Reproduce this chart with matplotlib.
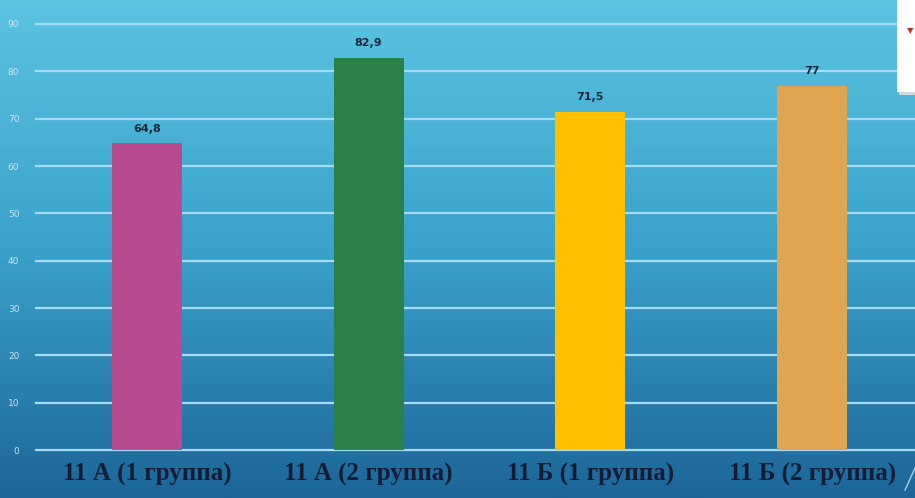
import numpy as np
import matplotlib
matplotlib.use("Agg")
import matplotlib.pyplot as plt
from matplotlib.colors import LinearSegmentedColormap
from matplotlib.patches import Rectangle

categories = ["11 А (1 группа)", "11 А (2 группа)", "11 Б (1 группа)", "11 Б (2 группа)"]
values = [64.8, 82.9, 71.5, 77]
value_labels = ["64,8", "82,9", "71,5", "77"]
bar_colors = ["#b84b8f", "#2b7f48", "#ffc000", "#e0a550"]
yticks = [0, 10, 20, 30, 40, 50, 60, 70, 80, 90]

W, H = 915, 498
fig = plt.figure(figsize=(W / 100, H / 100), dpi=100)

# background gradient
bg = fig.add_axes([0, 0, 1, 1], zorder=0)
cmap = LinearSegmentedColormap.from_list("bg", ["#5ac4e1", "#3aa2cb", "#1c6699"])
grad = np.linspace(0, 1, 256).reshape(-1, 1)
bg.imshow(grad, aspect="auto", cmap=cmap, extent=[0, 1, 0, 1], origin="upper")
bg.set_axis_off()

left_px, right_px = 36, 923
bottom_px, top_px = 450, 24
ax = fig.add_axes([left_px / W, 1 - bottom_px / H, (right_px - left_px) / W, (bottom_px - top_px) / H], zorder=1)
ax.patch.set_alpha(0)

x = np.arange(len(categories))
bars = ax.bar(x, values, width=0.316, color=bar_colors, zorder=3)
ax.set_xlim(-0.5, len(categories) - 0.5)
ax.set_ylim(0, 90)
ax.set_yticks(yticks)
for t in yticks:
    ax.axhline(t, color="#a6dcf3", lw=1.6, zorder=2, clip_on=False)

for xi, v, lab in zip(x, values, value_labels):
    ax.text(xi, v + 2.0, lab, ha="center", va="bottom", fontsize=8, fontweight="bold",
            color="#1b2a3a", zorder=4)

for s in ax.spines.values():
    s.set_visible(False)
ax.tick_params(axis="y", length=0, labelsize=6.5, labelcolor="#cfe4f0", pad=12)
ax.tick_params(axis="x", length=0, pad=9)
ax.set_xticks(x)
ax.set_xticklabels(categories, fontsize=18, fontweight="bold", family="Liberation Serif",
                   color="#131c33")

# partially visible legend box at top-right
fig.patches.append(Rectangle((899 / W, 1 - 95 / H), 20 / W, 95 / H, transform=fig.transFigure,
                             facecolor="#cfd8dc", edgecolor="none", zorder=5))
fig.patches.append(Rectangle((897 / W, 1 - 92 / H), 20 / W, 92 / H, transform=fig.transFigure,
                             facecolor="white", edgecolor="none", zorder=6))
fig.text(910 / W, 1 - 31 / H, "▼", color="#c0301e", fontsize=6, ha="center", va="center", zorder=7)

# small decorative line at bottom-right
fig.add_artist(plt.Line2D([905 / W, 915 / W], [1 - 490 / H, 1 - 468 / H], transform=fig.transFigure,
                          color="#9fd3ea", lw=1.0, zorder=7))

fig.savefig("out.png", dpi=100)
